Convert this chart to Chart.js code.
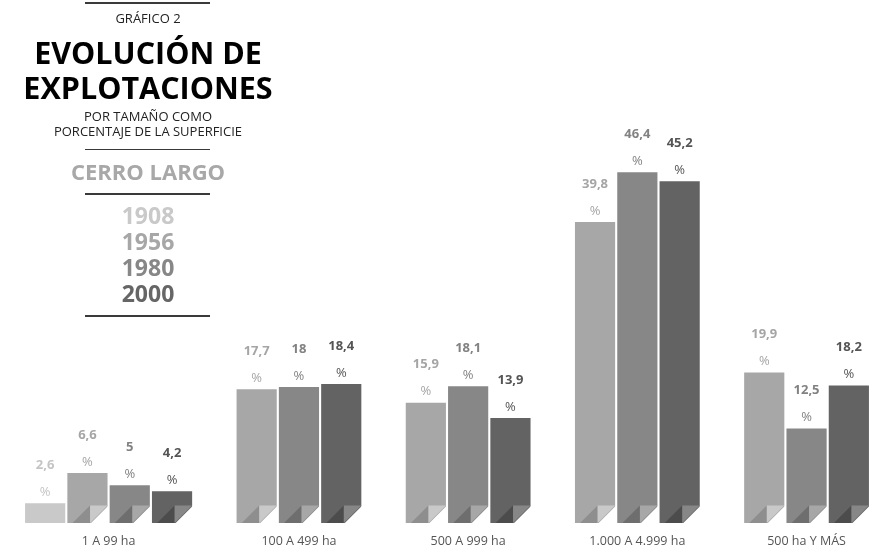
<!DOCTYPE html>
<html lang="es">
<head>
<meta charset="utf-8">
<title>Evolución de explotaciones - Cerro Largo</title>
<script src="https://cdn.jsdelivr.net/npm/chart.js@4/dist/chart.umd.min.js"></script>
<style>
    html, body { margin: 0; padding: 0; background: #fff; }
    #wrap { position: relative; width: 872px; height: 547px; overflow: hidden; font-family: "Open Sans", sans-serif; }
    #chart { position: absolute; left: 0; top: 0; }
    .t { position: absolute; left: 0; width: 296px; text-align: center; line-height: 1; white-space: nowrap; }
    .rule { position: absolute; left: 85px; width: 125px; height: 1.5px; background: #3a3a3a; }
</style>
</head>
<body>
<div id="wrap">
    <canvas id="chart" width="872" height="560"></canvas>

    <div class="rule" style="top:2px"></div>
    <div class="t" style="top:11.5px;font-size:13px;color:#222">GRÁFICO 2</div>
    <div class="t" style="top:37px;font-size:30.5px;font-weight:700;color:#000">EVOLUCIÓN DE</div>
    <div class="t" style="top:72px;font-size:30.5px;font-weight:700;color:#000">EXPLOTACIONES</div>
    <div class="t" style="top:110px;font-size:13px;color:#222">POR TAMAÑO COMO</div>
    <div class="t" style="top:125px;font-size:13px;color:#222">PORCENTAJE DE LA SUPERFICIE</div>
    <div class="rule" style="top:148.5px"></div>
    <div class="t" style="top:160px;font-size:22px;font-weight:700;color:#a8a8a8">CERRO LARGO</div>
    <div class="rule" style="top:193px"></div>
    <div id="years"></div>
    <div class="rule" style="top:315px"></div>
</div>

<script>
// categorías (tamaño de explotación)
const categories = ['1 A 99 ha', '100 A 499 ha', '500 A 999 ha', '1.000 A 4.999 ha', '500 ha Y MÁS'];
const years = ['1908', '1956', '1980', '2000'];

// porcentaje de la superficie por año (null = sin dato)
const v1908 = [2.6, null, null, null, null];
const v1956 = [6.6, 17.7, 15.9, 39.8, 19.9];
const v1980 = [5, 18, 18.1, 46.4, 12.5];
const v2000 = [4.2, 18.4, 13.9, 45.2, 18.2];
const series = [v1908, v1956, v1980, v2000];

const barColors  = ['#c9c9c9', '#a7a7a7', '#878787', '#636363'];
const textColors = ['#c4c4c4', '#a5a5a5', '#828282', '#555555'];
const yearColors = ['#c9c9c9', '#a7a7a7', '#878787', '#666666'];
const flapColors = [null, '#c9c9c9', '#a7a7a7', '#878787'];
const shadeColors = [null, '#8e8e8e', '#6e6e6e', '#4c4c4c'];

// leyenda de años a la izquierda
const yearTops = [204, 230, 256, 282];
years.forEach(function(y, i){
    const d = document.createElement('div');
    d.className = 't';
    d.style.top = yearTops[i] + 'px';
    d.style.fontSize = '23px';
    d.style.fontWeight = '700';
    d.style.color = yearColors[i];
    d.textContent = y;
    document.getElementById('years').appendChild(d);
});

// cada barra ocupa una posición; un hueco entre grupos
const points = [], colors = [], yearIdx = [], groupCenters = [];
let slot = 0;
categories.forEach(function(cat, c){
    const first = slot;
    series.forEach(function(s, k){
        if (s[c] === null) return;
        points.push({x: slot, y: s[c]});
        colors.push(barColors[k]);
        yearIdx.push(k);
        slot++;
    });
    groupCenters.push((first + slot - 1) / 2);
    slot++;
});

const fmt = v => String(v).replace('.', ',');

// esquina doblada abajo a la derecha
const foldPlugin = {
    id: 'fold',
    afterDatasetsDraw(chart){
        const ctx = chart.ctx;
        const meta = chart.getDatasetMeta(0);
        const f = 17.5;
        meta.data.forEach(function(bar, i){
            const k = yearIdx[i];
            if (!flapColors[k]) return;
            const r = bar.x + bar.width / 2;
            const b = bar.base;
            ctx.save();
            ctx.fillStyle = '#fff';
            ctx.beginPath();
            ctx.moveTo(r - f, b + 1); ctx.lineTo(r + 1, b - f); ctx.lineTo(r + 1, b + 1);
            ctx.closePath(); ctx.fill();
            ctx.fillStyle = shadeColors[k];
            ctx.beginPath();
            ctx.moveTo(r - 2 * f, b); ctx.lineTo(r - f, b - f); ctx.lineTo(r - f, b);
            ctx.closePath(); ctx.fill();
            ctx.fillStyle = flapColors[k];
            ctx.beginPath();
            ctx.moveTo(r - f, b - f); ctx.lineTo(r, b - f); ctx.lineTo(r - f, b);
            ctx.closePath(); ctx.fill();
            ctx.restore();
        });
    }
};

// valor y "%" encima de cada barra
const valuePlugin = {
    id: 'values',
    afterDatasetsDraw(chart){
        const ctx = chart.ctx;
        const meta = chart.getDatasetMeta(0);
        meta.data.forEach(function(bar, i){
            const k = yearIdx[i];
            ctx.save();
            ctx.fillStyle = textColors[k];
            ctx.textAlign = 'center';
            ctx.textBaseline = 'middle';
            ctx.font = '700 13px "Open Sans"';
            ctx.fillText(fmt(points[i].y), bar.x, bar.y - 38);
            ctx.font = '400 13px "Open Sans"';
            ctx.fillText('%', bar.x, bar.y - 11);
            ctx.restore();
        });
    }
};

const ctx = document.getElementById('chart').getContext('2d');
new Chart(ctx, {
    type: 'bar',
    data: {
        datasets: [{
            data: points,
            backgroundColor: colors,
            borderWidth: 0,
            barPercentage: 0.95,
            categoryPercentage: 1
        }]
    },
    options: {
        responsive: false,
        animation: false,
        devicePixelRatio: 1,
        layout: { padding: { left: 24, right: 2, top: 145, bottom: 0 } },
        plugins: { legend: { display: false }, tooltip: { enabled: false } },
        scales: {
            x: {
                type: 'linear',
                min: -0.5,
                max: slot - 1.5,
                offset: false,
                grid: { display: false, drawTicks: false },
                border: { display: false },
                afterBuildTicks: function(scale){
                    scale.ticks = groupCenters.map(v => ({value: v}));
                },
                ticks: {
                    autoSkip: false,
                    maxRotation: 0,
                    padding: 11,
                    color: '#555',
                    font: { family: '"Open Sans"', size: 12.5 },
                    callback: function(v){
                        const i = groupCenters.indexOf(v);
                        return i >= 0 ? categories[i] : '';
                    }
                }
            },
            y: { display: false, min: 0, max: 50 }
        }
    },
    plugins: [foldPlugin, valuePlugin]
});
</script>
</body>
</html>
